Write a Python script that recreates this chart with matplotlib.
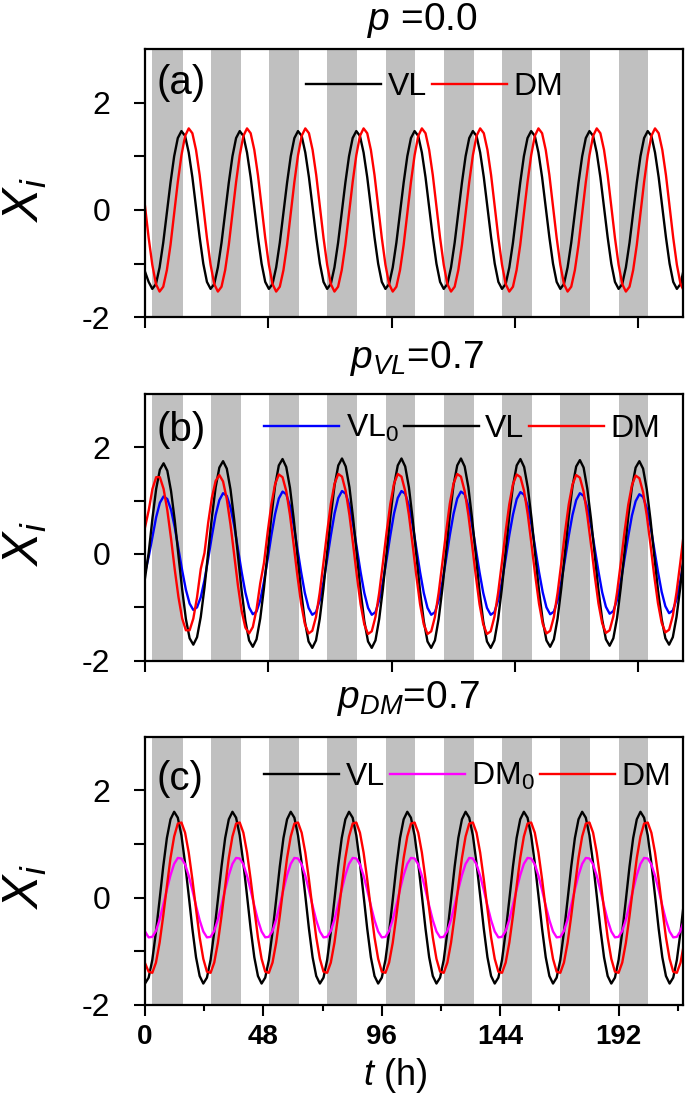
import numpy as np
import matplotlib.pyplot as plt

plt.rcParams['font.family'] = ['Liberation Sans', 'DejaVu Sans']
plt.rcParams['mathtext.fontset'] = 'custom'
plt.rcParams['mathtext.rm'] = 'Liberation Sans'
plt.rcParams['mathtext.it'] = 'Liberation Sans:italic'
plt.rcParams['mathtext.bf'] = 'Liberation Sans:bold'


######################
# dark phases (grey bands), hours
dark_start = [3.0, 26.6, 50.3, 73.9, 97.5, 121.2, 144.8, 168.4, 192.1]
dark_end = [15.2, 38.8, 62.5, 86.0, 109.6, 133.3, 156.9, 180.5, 204.0]

# curves are read at 16 points per cycle
t_ac = np.arange(149) * 23.63 / 16
t_b = np.arange(146) * 24.11 / 16

# (a) p = 0.0
a_vl = [-1.15, -1.34, -1.47, -1.38, -1.07, -0.61, -0.05, 0.51, 1.00, 1.34, 1.47, 1.38, 1.07, 0.61, 0.05, -0.51,
        -1.00, -1.34, -1.47, -1.38, -1.07, -0.61, -0.05, 0.51, 1.00, 1.34, 1.47, 1.38, 1.07, 0.61, 0.05, -0.51,
        -1.00, -1.34, -1.47, -1.38, -1.07, -0.61, -0.05, 0.51, 1.00, 1.34, 1.47, 1.38, 1.07, 0.61, 0.05, -0.51,
        -1.00, -1.34, -1.47, -1.38, -1.07, -0.61, -0.05, 0.51, 1.00, 1.34, 1.47, 1.38, 1.07, 0.61, 0.05, -0.51,
        -1.00, -1.34, -1.47, -1.38, -1.07, -0.61, -0.05, 0.51, 1.00, 1.34, 1.47, 1.38, 1.07, 0.61, 0.05, -0.51,
        -1.00, -1.34, -1.47, -1.38, -1.07, -0.61, -0.05, 0.51, 1.00, 1.34, 1.47, 1.38, 1.07, 0.61, 0.05, -0.51,
        -1.00, -1.34, -1.47, -1.38, -1.07, -0.61, -0.05, 0.51, 1.00, 1.34, 1.47, 1.38, 1.07, 0.61, 0.05, -0.51,
        -1.00, -1.34, -1.47, -1.38, -1.07, -0.61, -0.05, 0.51, 1.00, 1.34, 1.47, 1.38, 1.07, 0.61, 0.05, -0.51,
        -1.00, -1.34, -1.47, -1.38, -1.07, -0.61, -0.05, 0.51, 1.00, 1.34, 1.47, 1.38, 1.07, 0.61, 0.05, -0.51,
        -1.00, -1.34, -1.47, -1.38, -1.07]
a_dm = [0.07, -0.52, -1.02, -1.38, -1.52, -1.43, -1.12, -0.65, -0.07, 0.52, 1.02, 1.38, 1.52, 1.43, 1.12, 0.65,
        0.07, -0.52, -1.02, -1.38, -1.52, -1.43, -1.12, -0.65, -0.07, 0.52, 1.02, 1.38, 1.52, 1.43, 1.12, 0.65,
        0.07, -0.52, -1.02, -1.38, -1.52, -1.43, -1.12, -0.65, -0.07, 0.52, 1.02, 1.38, 1.52, 1.43, 1.12, 0.65,
        0.07, -0.52, -1.02, -1.38, -1.52, -1.43, -1.12, -0.65, -0.07, 0.52, 1.02, 1.38, 1.52, 1.43, 1.12, 0.65,
        0.07, -0.52, -1.02, -1.38, -1.52, -1.43, -1.12, -0.65, -0.07, 0.52, 1.02, 1.38, 1.52, 1.43, 1.12, 0.65,
        0.07, -0.52, -1.02, -1.38, -1.52, -1.43, -1.12, -0.65, -0.07, 0.52, 1.02, 1.38, 1.52, 1.43, 1.12, 0.65,
        0.07, -0.52, -1.02, -1.38, -1.52, -1.43, -1.12, -0.65, -0.07, 0.52, 1.02, 1.38, 1.52, 1.43, 1.12, 0.65,
        0.07, -0.52, -1.02, -1.38, -1.52, -1.43, -1.12, -0.65, -0.07, 0.52, 1.02, 1.38, 1.52, 1.43, 1.12, 0.65,
        0.07, -0.52, -1.02, -1.38, -1.52, -1.43, -1.12, -0.65, -0.07, 0.52, 1.02, 1.38, 1.52, 1.43, 1.12, 0.65,
        0.07, -0.52, -1.02, -1.38, -1.52]

# (b) p_VL = 0.7
b_vl0 = [-0.35, -0.05, 0.32, 0.69, 0.96, 1.08, 1.03, 0.83, 0.50, 0.10, -0.31, -0.67, -0.93, -1.05, -1.00, -0.81,
         -0.49, -0.09, 0.34, 0.73, 1.01, 1.14, 1.09, 0.87, 0.53, 0.10, -0.34, -0.72, -1.00, -1.13, -1.08, -0.87,
         -0.52, -0.10, 0.35, 0.75, 1.04, 1.17, 1.12, 0.90, 0.54, 0.10, -0.34, -0.73, -1.01, -1.14, -1.09, -0.87,
         -0.53, -0.10, 0.35, 0.76, 1.05, 1.18, 1.13, 0.91, 0.55, 0.11, -0.34, -0.73, -1.01, -1.14, -1.09, -0.87,
         -0.53, -0.10, 0.35, 0.76, 1.05, 1.18, 1.13, 0.91, 0.55, 0.11, -0.34, -0.73, -1.01, -1.14, -1.09, -0.87,
         -0.53, -0.10, 0.35, 0.75, 1.04, 1.17, 1.12, 0.90, 0.54, 0.10, -0.34, -0.73, -1.01, -1.14, -1.09, -0.87,
         -0.53, -0.10, 0.35, 0.74, 1.03, 1.16, 1.11, 0.89, 0.54, 0.10, -0.34, -0.72, -1.00, -1.13, -1.08, -0.87,
         -0.52, -0.10, 0.34, 0.73, 1.01, 1.14, 1.09, 0.87, 0.53, 0.10, -0.33, -0.72, -0.99, -1.12, -1.07, -0.86,
         -0.52, -0.10, 0.33, 0.72, 0.99, 1.12, 1.07, 0.86, 0.52, 0.10, -0.33, -0.71, -0.98, -1.11, -1.06, -0.85,
         -0.51, -0.10]
b_vl = [-0.45, 0.03, 0.67, 1.22, 1.58, 1.70, 1.56, 1.18, 0.63, -0.03, -0.67, -1.22, -1.58, -1.70, -1.56, -1.18,
        -0.63, 0.03, 0.69, 1.25, 1.62, 1.74, 1.60, 1.21, 0.64, -0.03, -0.69, -1.25, -1.62, -1.74, -1.60, -1.21,
        -0.64, 0.03, 0.71, 1.28, 1.66, 1.78, 1.63, 1.24, 0.66, -0.03, -0.70, -1.26, -1.64, -1.76, -1.62, -1.22,
        -0.65, 0.03, 0.71, 1.29, 1.66, 1.79, 1.64, 1.25, 0.66, -0.03, -0.70, -1.26, -1.64, -1.76, -1.62, -1.22,
        -0.65, 0.03, 0.71, 1.29, 1.66, 1.79, 1.64, 1.25, 0.66, -0.03, -0.70, -1.26, -1.64, -1.76, -1.62, -1.22,
        -0.65, 0.03, 0.71, 1.29, 1.66, 1.79, 1.64, 1.25, 0.66, -0.03, -0.70, -1.26, -1.64, -1.76, -1.62, -1.22,
        -0.65, 0.03, 0.71, 1.28, 1.66, 1.78, 1.63, 1.24, 0.66, -0.03, -0.69, -1.25, -1.62, -1.74, -1.60, -1.21,
        -0.64, 0.03, 0.70, 1.26, 1.64, 1.76, 1.62, 1.22, 0.65, -0.03, -0.68, -1.23, -1.60, -1.72, -1.58, -1.20,
        -0.63, 0.03, 0.69, 1.25, 1.62, 1.74, 1.60, 1.21, 0.64, -0.03, -0.67, -1.22, -1.58, -1.70, -1.56, -1.18,
        -0.63, 0.03]
b_dm = [0.50, 0.82, 1.22, 1.44, 1.44, 1.22, 0.82, 0.29, -0.29, -0.81, -1.21, -1.43, -1.43, -1.21, -0.81, -0.28,
        0.02, 0.59, 1.06, 1.37, 1.48, 1.36, 1.03, 0.55, -0.02, -0.59, -1.07, -1.38, -1.49, -1.37, -1.04, -0.55,
        -0.17, 0.41, 0.93, 1.31, 1.49, 1.44, 1.18, 0.73, 0.17, -0.41, -0.93, -1.31, -1.49, -1.44, -1.18, -0.73,
        -0.17, 0.41, 0.94, 1.32, 1.50, 1.45, 1.18, 0.73, 0.17, -0.41, -0.94, -1.32, -1.50, -1.45, -1.18, -0.73,
        -0.17, 0.41, 0.94, 1.32, 1.50, 1.45, 1.18, 0.73, 0.17, -0.41, -0.94, -1.32, -1.50, -1.45, -1.18, -0.73,
        -0.17, 0.41, 0.94, 1.32, 1.50, 1.45, 1.18, 0.73, 0.17, -0.41, -0.94, -1.32, -1.50, -1.45, -1.18, -0.73,
        -0.17, 0.41, 0.93, 1.31, 1.49, 1.44, 1.18, 0.73, 0.17, -0.41, -0.93, -1.31, -1.49, -1.44, -1.18, -0.73,
        -0.17, 0.41, 0.93, 1.30, 1.48, 1.43, 1.17, 0.72, 0.17, -0.41, -0.93, -1.30, -1.48, -1.43, -1.17, -0.72,
        -0.17, 0.41, 0.92, 1.29, 1.47, 1.42, 1.16, 0.72, 0.17, -0.41, -0.92, -1.29, -1.47, -1.42, -1.16, -0.72,
        -0.17, 0.41]

# (c) p_DM = 0.7
c_vl = [-1.60, -1.49, -1.16, -0.64, -0.04, 0.58, 1.11, 1.46, 1.60, 1.49, 1.16, 0.64, 0.04, -0.58, -1.11, -1.46,
        -1.60, -1.49, -1.16, -0.64, -0.04, 0.58, 1.11, 1.46, 1.60, 1.49, 1.16, 0.64, 0.04, -0.58, -1.11, -1.46,
        -1.60, -1.49, -1.16, -0.64, -0.04, 0.58, 1.11, 1.46, 1.60, 1.49, 1.16, 0.64, 0.04, -0.58, -1.11, -1.46,
        -1.60, -1.49, -1.16, -0.64, -0.04, 0.58, 1.11, 1.46, 1.60, 1.49, 1.16, 0.64, 0.04, -0.58, -1.11, -1.46,
        -1.60, -1.49, -1.16, -0.64, -0.04, 0.58, 1.11, 1.46, 1.60, 1.49, 1.16, 0.64, 0.04, -0.58, -1.11, -1.46,
        -1.60, -1.49, -1.16, -0.64, -0.04, 0.58, 1.11, 1.46, 1.60, 1.49, 1.16, 0.64, 0.04, -0.58, -1.11, -1.46,
        -1.60, -1.49, -1.16, -0.64, -0.04, 0.58, 1.11, 1.46, 1.60, 1.49, 1.16, 0.64, 0.04, -0.58, -1.11, -1.46,
        -1.60, -1.49, -1.16, -0.64, -0.04, 0.58, 1.11, 1.46, 1.60, 1.49, 1.16, 0.64, 0.04, -0.58, -1.11, -1.46,
        -1.60, -1.49, -1.16, -0.64, -0.04, 0.58, 1.11, 1.46, 1.60, 1.49, 1.16, 0.64, 0.04, -0.58, -1.11, -1.46,
        -1.60, -1.49, -1.16, -0.64, -0.04]
c_dm0 = [-0.63, -0.74, -0.73, -0.62, -0.41, -0.14, 0.15, 0.42, 0.63, 0.74, 0.73, 0.62, 0.41, 0.14, -0.15, -0.42,
         -0.63, -0.74, -0.73, -0.62, -0.41, -0.14, 0.15, 0.42, 0.63, 0.74, 0.73, 0.62, 0.41, 0.14, -0.15, -0.42,
         -0.63, -0.74, -0.73, -0.62, -0.41, -0.14, 0.15, 0.42, 0.63, 0.74, 0.73, 0.62, 0.41, 0.14, -0.15, -0.42,
         -0.63, -0.74, -0.73, -0.62, -0.41, -0.14, 0.15, 0.42, 0.63, 0.74, 0.73, 0.62, 0.41, 0.14, -0.15, -0.42,
         -0.63, -0.74, -0.73, -0.62, -0.41, -0.14, 0.15, 0.42, 0.63, 0.74, 0.73, 0.62, 0.41, 0.14, -0.15, -0.42,
         -0.63, -0.74, -0.73, -0.62, -0.41, -0.14, 0.15, 0.42, 0.63, 0.74, 0.73, 0.62, 0.41, 0.14, -0.15, -0.42,
         -0.63, -0.74, -0.73, -0.62, -0.41, -0.14, 0.15, 0.42, 0.63, 0.74, 0.73, 0.62, 0.41, 0.14, -0.15, -0.42,
         -0.63, -0.74, -0.73, -0.62, -0.41, -0.14, 0.15, 0.42, 0.63, 0.74, 0.73, 0.62, 0.41, 0.14, -0.15, -0.42,
         -0.63, -0.74, -0.73, -0.62, -0.41, -0.14, 0.15, 0.42, 0.63, 0.74, 0.73, 0.62, 0.41, 0.14, -0.15, -0.42,
         -0.63, -0.74, -0.73, -0.62, -0.41]
c_dm = [-1.22, -1.38, -1.40, -1.21, -0.84, -0.34, 0.21, 0.74, 1.14, 1.38, 1.40, 1.21, 0.84, 0.34, -0.21, -0.74,
        -1.14, -1.38, -1.40, -1.21, -0.84, -0.34, 0.21, 0.74, 1.14, 1.38, 1.40, 1.21, 0.84, 0.34, -0.21, -0.74,
        -1.14, -1.38, -1.40, -1.21, -0.84, -0.34, 0.21, 0.74, 1.14, 1.38, 1.40, 1.21, 0.84, 0.34, -0.21, -0.74,
        -1.14, -1.38, -1.40, -1.21, -0.84, -0.34, 0.21, 0.74, 1.14, 1.38, 1.40, 1.21, 0.84, 0.34, -0.21, -0.74,
        -1.14, -1.38, -1.40, -1.21, -0.84, -0.34, 0.21, 0.74, 1.14, 1.38, 1.40, 1.21, 0.84, 0.34, -0.21, -0.74,
        -1.14, -1.38, -1.40, -1.21, -0.84, -0.34, 0.21, 0.74, 1.14, 1.38, 1.40, 1.21, 0.84, 0.34, -0.21, -0.74,
        -1.14, -1.38, -1.40, -1.21, -0.84, -0.34, 0.21, 0.74, 1.14, 1.38, 1.40, 1.21, 0.84, 0.34, -0.21, -0.74,
        -1.14, -1.38, -1.40, -1.21, -0.84, -0.34, 0.21, 0.74, 1.14, 1.38, 1.40, 1.21, 0.84, 0.34, -0.21, -0.74,
        -1.14, -1.38, -1.40, -1.21, -0.84, -0.34, 0.21, 0.74, 1.14, 1.38, 1.40, 1.21, 0.84, 0.34, -0.21, -0.74,
        -1.14, -1.38, -1.40, -1.21, -0.84]

x_ticks_c = [0, 48, 96, 144, 192]
x_minor_c = [24, 72, 120, 168, 216]
x_ticks_ab = [0, 50, 100, 150, 200]
y_ticks = [-2, 0, 2]
y_labels = ['-2', '0', '2']
##########################


def panel(ax, curves, title, title_x, title_y, tag, tag_y, leg_x, leg_y):
    for s, e in zip(dark_start, dark_end):
        ax.axvspan(s, e, color='#c0c0c0', lw=0, zorder=0)
    for t, y, col, lab in curves:
        ax.plot(t, y, color=col, lw=1.7, label=lab)
    ax.set_xlim(0, 218)
    ax.set_ylim(-2, 3)
    ax.set_yticks(y_ticks)
    ax.set_yticklabels(y_labels, fontsize=23)
    ax.set_yticks([-1, 1], minor=True)
    ax.tick_params(axis='y', which='both', direction='out', length=8, width=1.5, pad=17)
    for sp in ax.spines.values():
        sp.set_linewidth(1.6)
    ax.text(title_x, title_y, title, transform=ax.transAxes, ha='center',
            va='baseline', fontsize=28)
    ax.text(0.022, tag_y, tag, transform=ax.transAxes, ha='left', va='center',
            fontsize=29)
    ax.text(-0.222, 0.44, '$X_i$', transform=ax.transAxes, rotation=90,
            ha='center', va='center', fontsize=36)
    ax.legend(loc='center left', bbox_to_anchor=(leg_x, leg_y), ncol=len(curves),
              frameon=False, fontsize=23, handlelength=2.35, handletextpad=0.2,
              columnspacing=0.15, borderpad=0, borderaxespad=0)


fig = plt.figure(figsize=(6.85, 10.98), dpi=100)
ax_a = fig.add_axes([0.2117, 0.7110, 0.785, 0.2444])
ax_b = fig.add_axes([0.2117, 0.3983, 0.785, 0.2429])
ax_c = fig.add_axes([0.2117, 0.0847, 0.785, 0.2444])

panel(ax_a, [(t_ac, a_vl, 'black', 'VL'), (t_ac, a_dm, 'red', 'DM')],
      '$p$ =0.0', 0.515, 1.072, '(a)', 0.875, 0.30, 0.858)
panel(ax_b, [(t_b, b_vl0, 'blue', r'VL$_0$'), (t_b, b_vl, 'black', 'VL'),
             (t_b, b_dm, 'red', 'DM')],
      '$p_{VL}$=0.7', 0.505, 1.097, '(b)', 0.865, 0.222, 0.869)
panel(ax_c, [(t_ac, c_vl, 'black', 'VL'), (t_ac, c_dm0, 'magenta', r'DM$_0$'),
             (t_ac, c_dm, 'red', 'DM')],
      '$p_{DM}$=0.7', 0.49, 1.108, '(c)', 0.842, 0.222, 0.85)

for ax in (ax_a, ax_b):
    ax.set_xticks(x_ticks_ab)
    ax.set_xticklabels([])
    ax.tick_params(axis='x', direction='out', length=8, width=1.5)

ax_c.set_xticks(x_ticks_c)
ax_c.set_xticklabels([str(v) for v in x_ticks_c], fontsize=20, fontweight='bold')
ax_c.set_xticks(x_minor_c, minor=True)
ax_c.tick_params(axis='x', which='major', direction='out', length=8, width=1.5, pad=6)
ax_c.tick_params(axis='x', which='minor', direction='out', length=4.5, width=1.5)

fig.text(0.577, 0.012, '$t$ (h)', ha='center', va='baseline', fontsize=26)

fig.savefig('out.png', dpi=100)
